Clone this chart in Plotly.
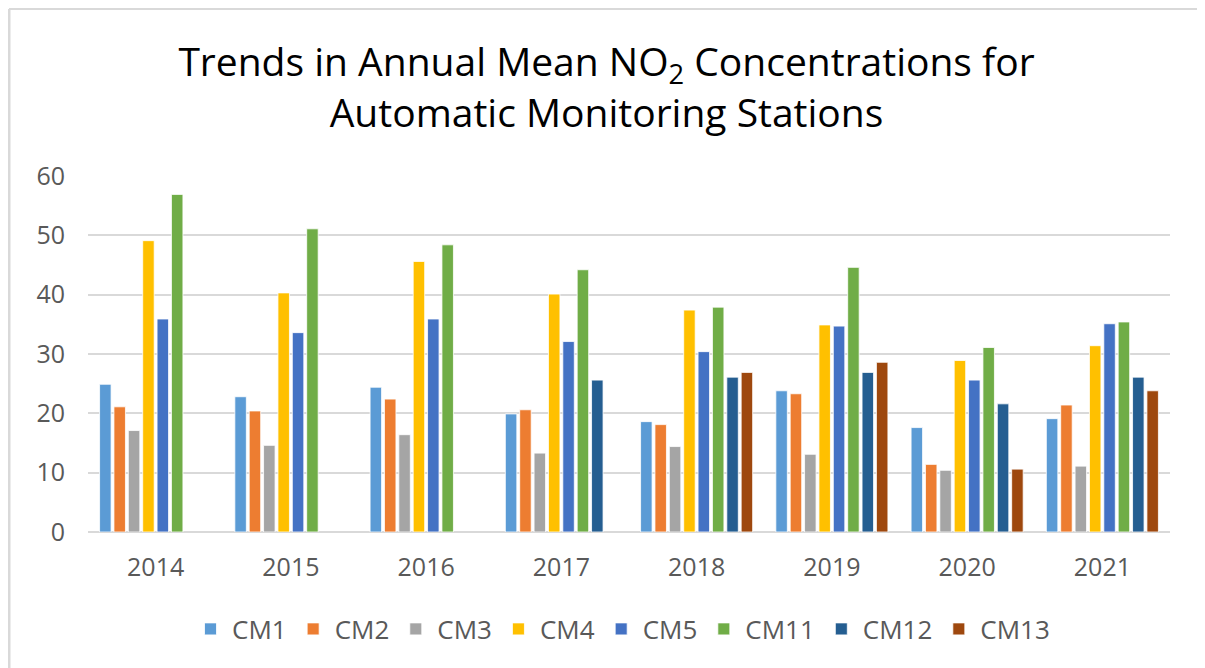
import plotly.graph_objects as go

years = ["2014", "2015", "2016", "2017", "2018", "2019", "2020", "2021"]

cm1 = [24.9, 22.8, 24.4, 19.9, 18.6, 23.8, 17.6, 19.1]
cm2 = [21.1, 20.4, 22.4, 20.6, 18.1, 23.3, 11.4, 21.4]
cm3 = [17.1, 14.6, 16.4, 13.3, 14.4, 13.1, 10.4, 11.1]
cm4 = [49.1, 40.3, 45.6, 40.1, 37.4, 34.9, 28.9, 31.4]
cm5 = [35.9, 33.6, 35.9, 32.1, 30.4, 34.7, 25.6, 35.1]
cm11 = [56.9, 51.1, 48.4, 44.2, 37.9, 44.6, 31.1, 35.4]
cm12 = [None, None, None, 25.6, 26.1, 26.9, 21.6, 26.1]
cm13 = [None, None, None, None, 26.9, 28.6, 10.6, 23.8]

series_names = ["CM1", "CM2", "CM3", "CM4", "CM5", "CM11", "CM12", "CM13"]
series_values = [cm1, cm2, cm3, cm4, cm5, cm11, cm12, cm13]
colors = ["#5B9BD5", "#ED7D31", "#A5A5A5", "#FFC000", "#4472C4", "#70AD47", "#255E91", "#9E480E"]

fig = go.Figure()
for name, vals, col in zip(series_names, series_values, colors):
    fig.add_trace(go.Bar(
        x=years, y=vals, name=name,
        marker=dict(color=col, line=dict(color="white", width=0.8)),
    ))

# The page body adds an 8px offset; figure is sized to compensate.
OFF = 8
W, H = 1205 - OFF, 668 - OFF
L, R, T, B = 88 - OFF, 35, 176 - OFF, 136
pw, ph = W - L - R, H - T - B

def px_x(p):
    # p in page pixels
    return (p - OFF - L) / pw

def px_y(p):
    return (H - B - (p - OFF)) / ph

fig.update_layout(
    width=W, height=H,
    margin=dict(l=L, r=R, t=T, b=B, autoexpand=False),
    paper_bgcolor="white",
    plot_bgcolor="white",
    barmode="group",
    bargap=0.15,
    bargroupgap=0.2,
    title=dict(
        text="Trends in Annual Mean NO<sub>2</sub> Concentrations for<br>Automatic Monitoring Stations",
        x=0.5, xanchor="center", y=1 - (76 - OFF) / H, yanchor="middle",
        font=dict(family="Open Sans", size=39, color="#000000"),
    ),
    font=dict(family="Open Sans", color="#595959"),
    xaxis=dict(
        showgrid=False, showline=False, ticks="",
        tickfont=dict(size=25, color="#595959"),
        ticklabelstandoff=18,
    ),
    yaxis=dict(
        range=[0, 60], dtick=10, showgrid=True,
        gridcolor="#D9D9D9", gridwidth=2,
        zeroline=True, zerolinecolor="#D9D9D9", zerolinewidth=2,
        showline=False, ticks="",
        tickfont=dict(size=25, color="#595959"),
        ticklabelstandoff=22,
    ),
    legend=dict(
        orientation="h", x=px_x(622), xanchor="center",
        y=px_y(629), yanchor="middle",
        font=dict(size=26, color="#595959"),
        itemwidth=33,
    ),
    shapes=[
        dict(type="line", xref="paper", yref="paper",
             x0=px_x(9), x1=px_x(9), y0=px_y(9), y1=px_y(680),
             line=dict(color="#D9D9D9", width=3), layer="below"),
        dict(type="line", xref="paper", yref="paper",
             x0=px_x(9), x1=px_x(1204), y0=px_y(9), y1=px_y(9),
             line=dict(color="#D9D9D9", width=2), layer="below"),
        dict(type="line", xref="paper", yref="paper",
             x0=px_x(1203), x1=px_x(1203), y0=px_y(9), y1=px_y(680),
             line=dict(color="#EDEDED", width=1), layer="below"),
    ],
)

fig.write_html("out.html")
